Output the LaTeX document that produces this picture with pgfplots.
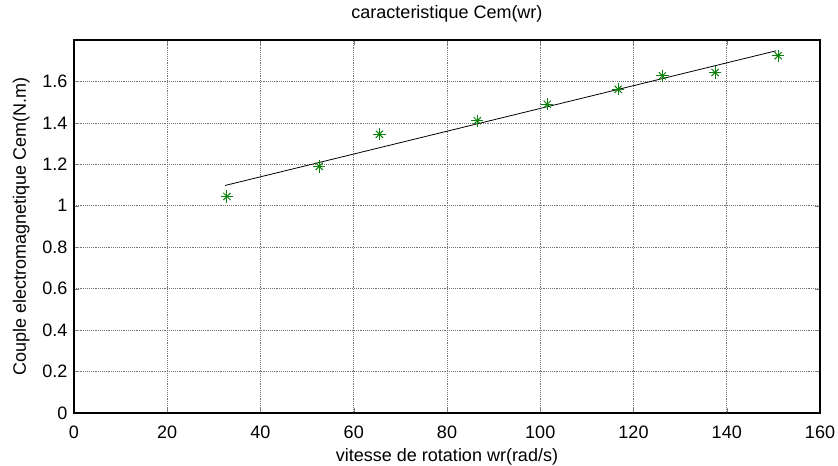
\documentclass[border=0pt]{standalone}
\usepackage{pgfplots}
\usepackage{pgfplotstable}
\pgfplotsset{compat=1.18}
\usepackage{fontspec}
\setmainfont{Liberation Sans}
\definecolor{mgreen}{RGB}{10,130,10}

\pgfplotstableread{
w    cem
32.8 1.045
52.6 1.19
65.5 1.345
86.5 1.41
101.5 1.49
116.7 1.562
126.2 1.627
137.5 1.643
151.0 1.724
}\meas

\begin{document}
\begin{tikzpicture}
\begin{axis}[
    at={(0,0)}, anchor=south west,
    scale only axis, width=559.5pt, height=279.75pt,
    xmin=0, xmax=160, ymin=0, ymax=1.8,
    xtick={0,20,...,160},
    ytick={0,0.2,0.4,0.6,0.8,1,1.2,1.4,1.6},
    yticklabels={0,0.2,0.4,0.6,0.8,1,1.2,1.4,1.6},
    tick align=inside, xtick pos=both, ytick pos=both,
    major tick length=3.5pt,
    axis line style={line width=0.8pt},
    grid=major,
    grid style={densely dotted, black!55, line width=0.5pt},
    /pgf/number format/assume math mode=true,
    ticklabel style={font=\fontsize{13.5}{16}\selectfont},
    xticklabel style={yshift=-6pt},
    yticklabel style={xshift=-1.5pt},
    title={caracteristique Cem(wr)},
    xlabel={vitesse de rotation wr(rad/s)},
    ylabel={Couple electromagnetique Cem(N.m)},
    title style={font=\fontsize{13.5}{16}\selectfont, at={(axis description cs:0.5,1)}, anchor=center, yshift=13.5pt},
    x label style={font=\fontsize{13.5}{16}\selectfont, at={(axis description cs:0.5,0)}, anchor=center, yshift=-33pt},
    y label style={font=\fontsize{13.5}{16}\selectfont, at={(axis description cs:0,0.5)}, anchor=center, yshift=39.5pt},
]
% fitted line
\addplot[black, line width=0.6pt, no marks] coordinates {
    (32.4,1.098) (150.6,1.748)
};
% measurements (MATLAB-like * = + and x)
\addplot[only marks, mark=+, mark size=4.6pt, color=mgreen, line width=0.75pt] table[x=w,y=cem] {\meas};
\addplot[only marks, mark=x, mark size=3.8pt, color=mgreen, line width=0.75pt] table[x=w,y=cem] {\meas};
\end{axis}
\pgfresetboundingbox
\useasboundingbox (-55.5pt,-39pt) rectangle (573pt,309.75pt);
\end{tikzpicture}
\end{document}
